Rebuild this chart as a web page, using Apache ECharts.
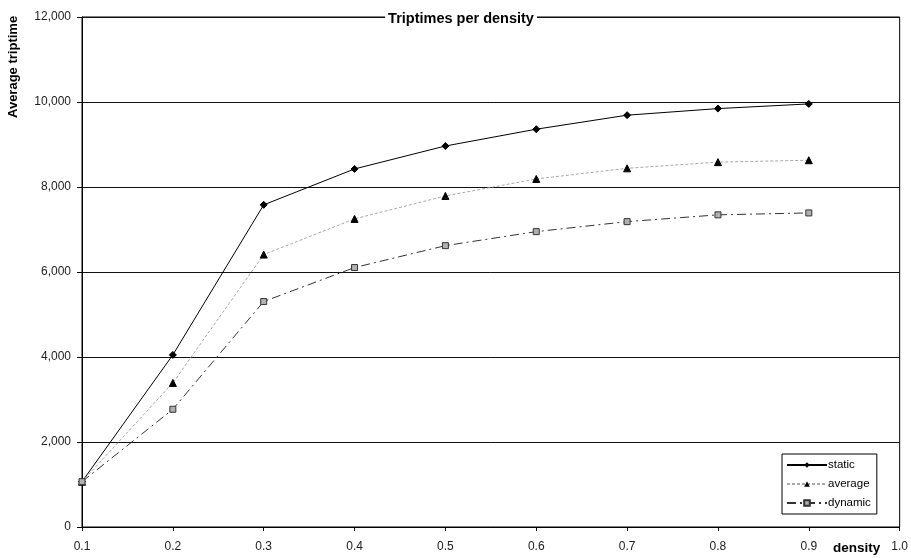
<!DOCTYPE html>
<html>
<head>
<meta charset="utf-8">
<script src="https://cdn.jsdelivr.net/npm/echarts@6/dist/echarts.min.js"></script>
<style>html,body{margin:0;padding:0;background:#fff;}#c{width:911px;height:558px;}</style>
</head>
<body>
<div id="c"></div>
<script>
const densities = [0.1, 0.2, 0.3, 0.4, 0.5, 0.6, 0.7, 0.8, 0.9];
const staticVals = [1066, 4050, 7580, 8425, 8965, 9360, 9690, 9845, 9955];
const averageVals = [1066, 3390, 6410, 7250, 7790, 8190, 8440, 8585, 8630];
const dynamicVals = [1066, 2770, 5305, 6105, 6620, 6950, 7185, 7345, 7390];
const seriesNames = ['static', 'average', 'dynamic'];
const titleText = 'Triptimes per density';
const xName = 'density';
const yName = 'Average triptime';

const FONT = 'Arial, "Liberation Sans", sans-serif';
const pair = vals => densities.map((d, i) => [d, vals[i]]);

const chart = echarts.init(document.getElementById('c'));
chart.setOption({
  animation: false,
  backgroundColor: '#fff',
  title: {
    text: titleText,
    left: 458, top: 11,
    textAlign: 'center',
    backgroundColor: '#fff',
    padding: [0, 3],
    textStyle: { fontFamily: FONT, fontSize: 14.5, fontWeight: 'bold', color: '#000' }
  },
  grid: { left: 82, top: 17, width: 820, height: 510, show: true, borderColor: '#000', borderWidth: 1, backgroundColor: 'transparent' },
  xAxis: {
    type: 'value', min: 0.1, max: 1.0, interval: 0.1,
    axisLine: { lineStyle: { color: '#000', width: 1 } },
    axisTick: { show: true, length: 4, lineStyle: { color: '#000' } },
    splitLine: { show: false },
    axisLabel: { margin: 14, color: '#222', fontFamily: FONT, fontSize: 12, formatter: v => v.toFixed(1) }
  },
  yAxis: {
    type: 'value', min: 0, max: 12000, interval: 2000,
    axisLine: { show: true, lineStyle: { color: '#000', width: 1 } },
    axisTick: { show: true, length: 5, lineStyle: { color: '#000' } },
    splitLine: { show: true, lineStyle: { color: '#111', width: 1 } },
    axisLabel: { margin: 11, color: '#222', fontFamily: FONT, fontSize: 12,
      formatter: v => v.toLocaleString('en-US') }
  },
  graphic: [
    { type: 'text', left: 833, top: 541, style: { text: xName, font: 'bold 13.5px ' + FONT, fill: '#000' } },
    { type: 'text', x: 7, y: 118, rotation: Math.PI / 2, style: { text: yName, font: 'bold 13px ' + FONT, fill: '#000' } }
  ],
  legend: {
    data: seriesNames,
    orient: 'vertical',
    left: 782, top: 454,
    padding: [5, 6, 5, 4],
    itemWidth: 40, itemHeight: 7,
    itemGap: 7,
    borderColor: '#000', borderWidth: 1, backgroundColor: '#fff',
    textStyle: { fontFamily: FONT, fontSize: 11.5, color: '#000', padding: [0, 0, 0, -4], lineHeight: 12 }
  },
  series: [
    {
      name: seriesNames[0], type: 'line', data: pair(staticVals), z: 3,
      symbol: 'diamond', symbolSize: 7,
      lineStyle: { color: '#000', width: 1, type: 'solid' },
      itemStyle: { color: '#000', borderColor: '#000' }
    },
    {
      name: seriesNames[1], type: 'line', data: pair(averageVals), z: 4,
      symbol: 'triangle', symbolSize: 7,
      lineStyle: { color: '#a8a8a8', width: 1, type: [3, 2] },
      itemStyle: { color: '#000', borderColor: '#000' }
    },
    {
      name: seriesNames[2], type: 'line', data: pair(dynamicVals), z: 5,
      symbol: 'rect', symbolSize: 6,
      lineStyle: { color: '#333', width: 1, type: [9, 4, 2, 4] },
      itemStyle: { color: '#b0b0b0', borderColor: '#333', borderWidth: 1 }
    }
  ]
});
</script>
</body>
</html>
